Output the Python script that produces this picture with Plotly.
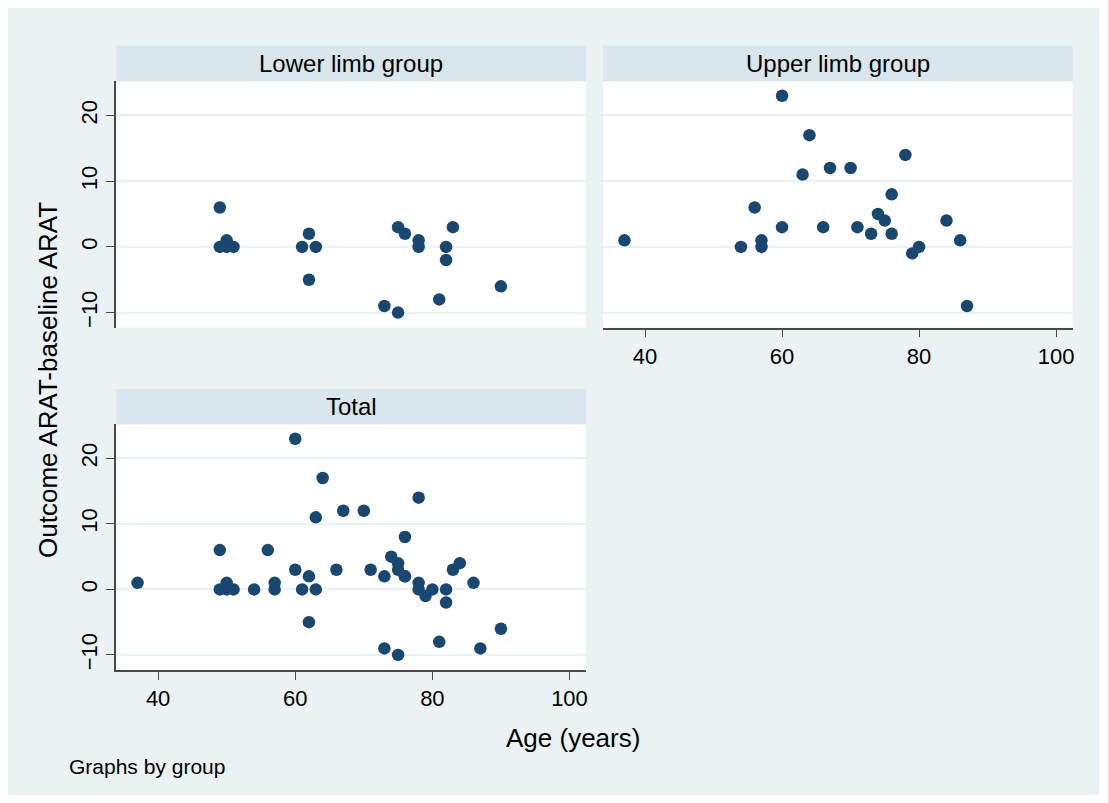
import plotly.graph_objects as go

# ARAT change vs. age, by rehabilitation group
lower_age = [49, 49, 50, 50, 51, 61, 62, 62, 63, 73, 75, 75, 76, 78, 78, 81, 82, 82, 83, 90]
lower_change = [6, 0, 0, 1, 0, 0, 2, -5, 0, -9, 3, -10, 2, 1, 0, -8, 0, -2, 3, -6]

upper_age = [37, 54, 56, 57, 57, 60, 60, 63, 64, 66, 67, 70, 71, 73, 74, 75, 76, 76, 78, 79, 80, 84, 86, 87]
upper_change = [1, 0, 6, 1, 0, 23, 3, 11, 17, 3, 12, 12, 3, 2, 5, 4, 8, 2, 14, -1, 0, 4, 1, -9]

x_ticks = [40, 60, 80, 100]
y_ticks = [-10, 0, 10, 20]
panel_titles = ["Lower limb group", "Upper limb group", "Total"]

total_age = lower_age + upper_age
total_change = lower_change + upper_change

W, H = 1109, 803
BG = "#EAF2F3"
STRIP = "#D9E6EB"
MARK = "#1A476F"
AXIS = "#4a4a4a"
FONT = "Liberation Sans, Arial, sans-serif"


def fx(px):
    return px / W


def fy(py):
    return 1 - py / H


# panel boxes in pixels: (left, right, top, bottom, strip_top)
boxes = [
    (116.5, 587.0, 81.3, 327.7, 45.7),
    (604.3, 1074.5, 81.3, 327.7, 45.7),
    (116.5, 587.0, 424.3, 670.0, 389.0),
]

fig = go.Figure()
series = [(lower_age, lower_change), (upper_age, upper_change), (total_age, total_change)]
for i, (ax, ay) in enumerate(series):
    sfx = "" if i == 0 else str(i + 1)
    fig.add_trace(go.Scatter(
        x=ax, y=ay, mode="markers",
        marker=dict(color=MARK, size=12.5, line=dict(width=0)),
        xaxis="x" + sfx, yaxis="y" + sfx, showlegend=False,
        hoverinfo="x+y",
    ))

xr = [33.9, 102.4]
yr = [-12.3, 25.2]
tickfont = dict(family=FONT, size=22, color="black")

layout = dict(
    width=W, height=H,
    margin=dict(l=0, r=0, t=0, b=0),
    paper_bgcolor=BG, plot_bgcolor="white",
    showlegend=False,
)

show_x = [False, True, True]
show_y = [True, False, True]
for i, (l, r, t, b, st) in enumerate(boxes):
    sfx = "" if i == 0 else str(i + 1)
    layout["xaxis" + sfx] = dict(
        domain=[fx(l), fx(r)], range=xr, anchor="y" + sfx,
        tickvals=x_ticks, showgrid=False, zeroline=False,
        showline=show_x[i], linecolor=AXIS, linewidth=1.5,
        ticks="outside" if show_x[i] else "", ticklen=8, tickwidth=1.3, tickcolor=AXIS,
        showticklabels=show_x[i], tickfont=tickfont,
    )
    layout["yaxis" + sfx] = dict(
        domain=[fy(b), fy(t)], range=yr, anchor="x" + sfx,
        tickvals=y_ticks, showgrid=True, gridcolor=BG, gridwidth=1.5, zeroline=False,
        showline=show_y[i], linecolor=AXIS, linewidth=1.5,
        ticks="outside" if show_y[i] else "", ticklen=9, tickwidth=1.3, tickcolor=AXIS,
        showticklabels=show_y[i], tickfont=tickfont, tickangle=-90,
    )

shapes = []
# white frame around the graph region
for x0, y0, x1, y1 in [(0, 0, W, 8), (0, H - 8, W, H), (0, 0, 8, H), (W - 8, 0, W, H)]:
    shapes.append(dict(type="rect", xref="paper", yref="paper",
                       x0=fx(x0), x1=fx(x1), y0=fy(y1), y1=fy(y0),
                       fillcolor="white", line=dict(width=0), layer="below"))

annotations = []
for (l, r, t, b, st), title in zip(boxes, panel_titles):
    shapes.append(dict(type="rect", xref="paper", yref="paper",
                       x0=fx(l), x1=fx(r), y0=fy(t), y1=fy(st),
                       fillcolor=STRIP, line=dict(width=0), layer="below"))
    annotations.append(dict(text=title, x=fx((l + r) / 2), y=fy((st + t) / 2),
                            xref="paper", yref="paper", showarrow=False,
                            xanchor="center", yanchor="middle",
                            font=dict(family=FONT, size=24, color="black")))

annotations.append(dict(text="Outcome ARAT-baseline ARAT", x=fx(48), y=fy(380),
                        xref="paper", yref="paper", showarrow=False, textangle=-90,
                        xanchor="center", yanchor="middle",
                        font=dict(family=FONT, size=26, color="black")))
annotations.append(dict(text="Age (years)", x=fx(574), y=fy(738),
                        xref="paper", yref="paper", showarrow=False,
                        xanchor="center", yanchor="middle",
                        font=dict(family=FONT, size=26, color="black")))
annotations.append(dict(text="Graphs by group", x=fx(67), y=fy(766),
                        xref="paper", yref="paper", showarrow=False,
                        xanchor="left", yanchor="middle",
                        font=dict(family=FONT, size=21, color="black")))

layout["shapes"] = shapes
layout["annotations"] = annotations
fig.update_layout(**layout)
fig.write_html("out.html")
